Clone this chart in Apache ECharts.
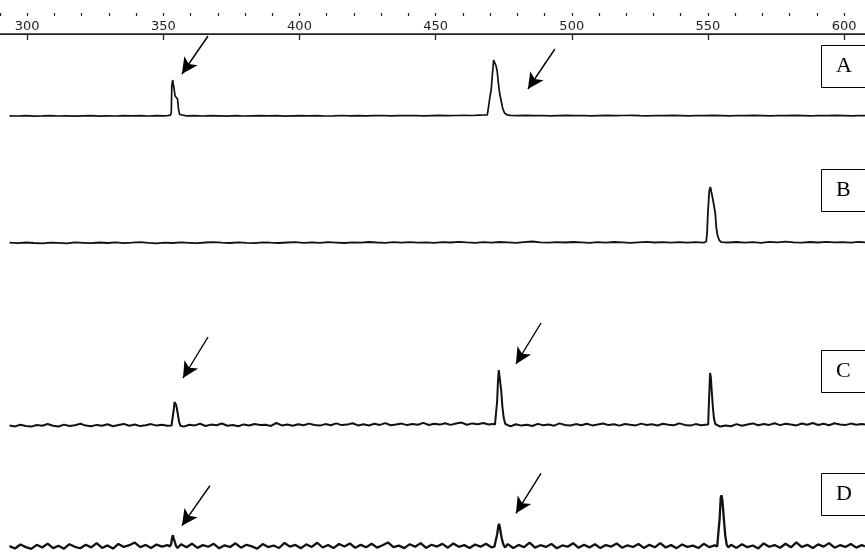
<!DOCTYPE html>
<html>
<head>
<meta charset="utf-8">
<script src="https://cdn.jsdelivr.net/npm/echarts@6/dist/echarts.min.js"></script>
<style>html,body{margin:0;padding:0;background:#fff;}#c{width:865px;height:557px;}</style>
</head>
<body>
<div id="c"></div>
<script>
// axis tick labels (top scale)
const majorTicks = [300, 350, 400, 450, 500, 550, 600];
const minorTicks = [290, 300, 310, 320, 330, 340, 350, 360, 370, 380, 390, 400, 410, 420, 430, 440, 450, 460, 470, 480, 490, 500, 510, 520, 530, 540, 550, 560, 570, 580, 590, 600];
const panelLabels = ['A', 'B', 'C', 'D'];

// trace A
const traceA = [[293.5,10.2],[296.5,10.0],[299.5,10.3],[302.5,9.9],[305.5,10.1],[308.5,10.4],[311.5,10.0],[314.5,10.2],[317.5,9.8],[320.5,10.1],[323.5,10.3],[326.5,9.9],[329.5,10.2],[332.5,10.0],[335.5,10.4],[338.5,10.1],[341.5,10.3],[344.5,10.0],[347.5,10.4],[350.0,10.2],
[351.5,10.4],[352.6,10.8],[352.9,13],[353.1,40],[353.4,46],[353.7,44],[354.0,36],[354.3,30],[354.8,29],[355.2,27],[355.6,16],[356.0,11.5],[356.6,10.5],
[358.5,10.2],[361.5,10.4],[364.5,10.0],[367.5,10.3],[370.5,10.1],[373.5,9.9],[376.5,10.3],[379.5,10.0],[382.5,10.2],[385.5,10.4],[388.5,10.1],[391.5,10.3],[394.5,9.9],[397.5,10.2],[400.5,10.4],[403.5,10.1],[406.5,10.3],[409.5,10.0],[412.5,10.2],[415.5,10.5],[418.5,10.2],[421.5,10.4],[424.5,10.1],[427.5,10.3],[430.5,10.5],[433.5,10.2],[436.5,10.4],[439.5,10.3],[442.5,10.5],[445.5,10.2],[448.5,10.4],[451.5,10.6],[454.5,10.3],[457.5,10.5],[460.5,10.7],[463.5,10.5],[466.0,10.8],
[467.8,11.0],[469.0,11.2],[469.7,12],[470.0,30],[470.4,36],[470.8,50],[471.3,66],[471.6,68],[471.9,67],[472.2,60],[472.6,55],[473.0,44],[473.5,33],[474.0,26],[474.6,18],[475.3,13],[476.2,11.2],[477.5,10.6],
[480.0,10.4],[483.0,10.6],[486.0,10.3],[489.0,10.5],[492.0,10.2],[495.0,10.4],[498.0,10.6],[501.0,10.3],[504.0,10.5],[507.0,10.2],[510.0,10.4],[513.0,10.6],[516.0,10.3],[519.0,10.5],[522.0,10.7],[525.0,10.4],[528.0,10.2],[531.0,10.5],[534.0,10.3],[537.0,10.6],[540.0,10.4],[543.0,10.2],[546.0,10.5],[549.0,10.3],[552.0,10.6],[555.0,10.4],[558.0,10.2],[561.0,10.5],[564.0,10.3],[567.0,10.6],[570.0,10.4],[573.0,10.2],[576.0,10.5],[579.0,10.3],[582.0,10.6],[585.0,10.4],[588.0,10.2],[591.0,10.5],[594.0,10.3],[597.0,10.6],[600.0,10.4],[603.0,10.2],[606.0,10.5],[607.7,10.3]];

// trace B
const traceB = [[293.5,10.3],[296.5,9.8],[299.5,10.5],[302.5,10.0],[305.5,9.6],[308.5,10.4],[311.5,10.1],[314.5,9.7],[317.5,10.6],[320.5,10.2],[323.5,9.8],[326.5,10.5],[329.5,10.0],[332.5,10.7],[335.5,9.9],[338.5,10.3],[341.5,10.8],[344.5,10.1],[347.5,9.7],[350.5,10.4],[353.5,10.0],[356.5,10.6],[359.5,10.2],[362.5,9.8],[365.5,10.5],[368.5,10.9],[371.5,10.3],[374.5,10.0],[377.5,10.6],[380.5,10.2],[383.5,9.9],[386.5,10.7],[389.5,10.3],[392.5,10.0],[395.5,10.5],[398.5,10.9],[401.5,10.2],[404.5,10.6],[407.5,10.1],[410.5,10.8],[413.5,10.4],[416.5,10.0],[419.5,10.7],[422.5,10.3],[425.5,11.0],[428.5,10.5],[431.5,10.1],[434.5,10.8],[437.5,10.4],[440.5,10.9],[443.5,10.3],[446.5,10.7],[449.5,10.2],[452.5,10.9],[455.5,10.5],[458.5,11.1],[461.5,10.6],[464.5,10.2],[467.5,10.8],[470.5,10.4],[473.5,11.0],[476.5,10.6],[479.5,10.2],[482.5,10.9],[485.5,11.5],[488.5,10.7],[491.5,10.3],[494.5,10.9],[497.5,10.5],[500.5,11.0],[503.5,10.6],[506.5,10.2],[509.5,10.8],[512.5,10.4],[515.5,11.0],[518.5,10.6],[521.5,10.1],[524.5,10.7],[527.5,11.2],[530.5,10.5],[533.5,10.9],[536.5,10.4],[539.5,10.8],[542.5,10.3],[545.5,10.9],
[548.5,10.3],[549.4,11.5],[549.7,20],[550.0,40],[550.5,62],[550.9,66],[551.2,64],[551.5,58],[551.8,54],[552.3,52],[552.7,40],[553.1,25],[553.6,17],[554.2,12.5],[555.0,10.8],
[557.5,10.5],[560.5,11.0],[563.5,10.4],[566.5,10.8],[569.5,10.2],[572.5,11.1],[575.5,10.6],[578.5,11.4],[581.5,10.7],[584.5,10.3],[587.5,11.0],[590.5,10.5],[593.5,11.2],[596.5,10.6],[599.5,10.9],[602.5,10.4],[605.5,11.1],[607.7,10.6]];

// trace C
const traceC = [[293.5,10.5],[295.5,9.6],[297.5,11.2],[299.5,10.1],[301.5,9.4],[303.5,11.0],[305.5,10.3],[307.5,12.0],[309.5,10.2],[311.5,9.5],[313.5,11.4],[315.5,10.0],[317.5,10.8],[319.5,12.3],[321.5,10.4],[323.5,9.7],[325.5,11.1],[327.5,10.2],[329.5,11.8],[331.5,9.8],[333.5,10.9],[335.5,12.1],[337.5,10.3],[339.5,11.5],[341.5,9.9],[343.5,10.7],[345.5,11.9],[347.5,10.4],[349.5,11.2],[351.5,10.2],
[353.0,10.5],[353.5,12],[353.8,26],[354.1,34],[354.4,36],[354.7,31],[355.0,27],[355.4,25],[355.8,14],[356.3,10.2],
[357.5,9.4],[359.5,11.3],[361.5,10.6],[363.5,12.2],[365.5,10.0],[367.5,11.4],[369.5,10.8],[371.5,12.5],[373.5,10.3],[375.5,11.0],[377.5,9.7],[379.5,11.6],[381.5,10.5],[383.5,12.0],[385.5,10.9],[387.5,11.3],[389.5,10.1],[391.5,13.0],[393.5,10.6],[395.5,11.5],[397.5,10.2],[399.5,11.8],[401.5,10.7],[403.5,12.4],[405.5,11.0],[407.5,10.4],[409.5,11.9],[411.5,10.8],[413.5,12.6],[415.5,10.9],[417.5,11.4],[419.5,12.7],[421.5,10.6],[423.5,11.7],[425.5,10.5],[427.5,12.2],[429.5,11.1],[431.5,12.9],[433.5,10.8],[435.5,11.6],[437.5,12.4],[439.5,10.9],[441.5,12.0],[443.5,11.2],[445.5,13.1],[447.5,11.0],[449.5,12.3],[451.5,11.4],[453.5,12.8],[455.5,11.1],[457.5,12.5],[459.5,13.4],[461.5,11.3],[463.5,12.6],[465.5,11.7],[467.5,13.0],[469.5,11.5],[471.0,12.1],
[471.8,11.5],[472.3,13],[472.6,35],[472.9,55],[473.2,66],[473.5,64],[473.8,52],[474.1,45],[474.5,30],[475.0,18],[475.6,12],[476.3,10.2],
[477.5,9.6],[479.5,11.8],[481.5,10.4],[483.5,11.2],[485.5,10.0],[487.5,12.1],[489.5,10.7],[491.5,11.5],[493.5,10.3],[495.5,12.6],[497.5,11.0],[499.5,10.5],[501.5,11.9],[503.5,10.8],[505.5,12.3],[507.5,10.6],[509.5,11.4],[511.5,12.5],[513.5,10.9],[515.5,11.7],[517.5,10.4],[519.5,12.0],[521.5,11.2],[523.5,10.6],[525.5,12.4],[527.5,11.0],[529.5,11.8],[531.5,10.5],[533.5,12.2],[535.5,11.3],[537.5,10.7],[539.5,12.6],[541.5,11.1],[543.5,10.4],[545.5,11.9],[547.5,10.8],[549.0,11.2],
[549.5,10.5],[550.1,11.5],[550.4,35],[550.8,63],[551.1,58],[551.4,45],[551.8,30],[552.2,18],[552.7,12],[553.3,10.2],
[554.5,9.4],[556.5,10.6],[558.5,9.8],[560.5,11.9],[562.5,10.3],[564.5,11.5],[566.5,12.6],[568.5,10.7],[570.5,12.0],[572.5,11.1],[574.5,12.8],[576.5,10.9],[578.5,12.3],[580.5,11.4],[582.5,10.6],[584.5,12.5],[586.5,11.3],[588.5,13.0],[590.5,11.0],[592.5,12.2],[594.5,10.8],[596.5,12.7],[598.5,11.5],[600.5,10.9],[602.5,12.4],[604.5,11.2],[606.5,12.0],[607.7,11.4]];

// trace D
const traceD = [[293.5,11.5],[295.5,9.0],[297.5,13.2],[299.5,10.4],[301.5,8.6],[303.5,12.8],[305.5,10.0],[307.5,14.1],[309.5,9.3],[311.5,11.9],[313.5,8.8],[315.5,13.5],[317.5,10.7],[319.5,9.2],[321.5,12.9],[323.5,10.1],[325.5,14.6],[327.5,9.5],[329.5,12.2],[331.5,8.9],[333.5,13.8],[335.5,10.6],[337.5,12.4],[339.5,15.2],[341.5,10.3],[343.5,12.7],[345.5,9.4],[347.5,13.1],[349.5,11.0],[351.5,12.6],
[352.4,11],[352.9,14],[353.2,20],[353.5,23],[353.8,19],[354.2,16],[354.6,12],[355.2,9.5],
[356.5,13.4],[358.5,10.2],[360.5,14.0],[362.5,9.6],[364.5,12.5],[366.5,10.8],[368.5,13.9],[370.5,9.1],[372.5,12.3],[374.5,10.5],[376.5,14.4],[378.5,9.8],[380.5,12.9],[382.5,11.2],[384.5,8.7],[386.5,13.6],[388.5,10.4],[390.5,12.1],[392.5,9.5],[394.5,14.8],[396.5,10.9],[398.5,12.7],[400.5,9.2],[402.5,13.3],[404.5,10.6],[406.5,15.0],[408.5,10.0],[410.5,12.6],[412.5,9.4],[414.5,13.7],[416.5,11.1],[418.5,14.2],[420.5,9.7],[422.5,12.8],[424.5,10.3],[426.5,13.9],[428.5,9.9],[430.5,12.4],[432.5,15.3],[434.5,10.5],[436.5,12.0],[438.5,9.3],[440.5,13.5],[442.5,10.8],[444.5,14.6],[446.5,9.6],[448.5,12.9],[450.5,11.0],[452.5,13.8],[454.5,9.8],[456.5,14.3],[458.5,10.7],[460.5,12.5],[462.5,9.4],[464.5,13.2],[466.5,10.9],[468.5,14.0],[470.5,10.2],
[471.6,11],[472.2,13],[472.6,24],[473.0,32],[473.3,35],[473.6,31],[474.0,24],[474.4,18],[474.9,13],[475.5,10],
[476.5,13.6],[478.5,9.5],[480.5,12.7],[482.5,10.3],[484.5,15.1],[486.5,9.9],[488.5,12.4],[490.5,10.6],[492.5,13.8],[494.5,9.2],[496.5,12.2],[498.5,10.8],[500.5,14.5],[502.5,9.7],[504.5,12.9],[506.5,10.1],[508.5,13.4],[510.5,9.4],[512.5,12.6],[514.5,11.0],[516.5,14.2],[518.5,9.8],[520.5,12.3],[522.5,10.5],[524.5,13.7],[526.5,9.6],[528.5,12.8],[530.5,10.2],[532.5,14.7],[534.5,10.0],[536.5,12.5],[538.5,9.3],[540.5,13.1],[542.5,10.7],[544.5,12.0],[546.5,9.5],[548.5,13.9],[550.5,10.4],[552.5,12.2],
[553.4,11],[554.0,13],[554.3,40],[554.7,62],[555.0,65],[555.3,60],[555.6,50],[556.0,35],[556.4,22],[556.9,13],[557.5,10],
[558.5,12.9],[560.5,9.6],[562.5,13.5],[564.5,10.3],[566.5,12.1],[568.5,9.0],[570.5,14.3],[572.5,10.8],[574.5,12.6],[576.5,9.7],[578.5,13.9],[580.5,10.2],[582.5,15.4],[584.5,10.5],[586.5,12.8],[588.5,9.4],[590.5,13.3],[592.5,10.9],[594.5,14.6],[596.5,9.8],[598.5,12.4],[600.5,10.6],[602.5,13.7],[604.5,9.9],[606.5,12.5],[607.7,11.2]];

// arrow annotations [x1, y1, x2(tip), y2(tip)] in data units of each panel
const arrowsA = [[366.4, 90, 356.8, 52], [493.8, 77, 483.9, 37]];
const arrowsB = [];
const arrowsC = [[366.4, 99, 357.2, 58], [488.7, 113, 479.5, 72]];
const arrowsD = [[367.1, 75, 356.8, 33], [488.7, 88, 479.5, 46]];

const traces = [traceA, traceB, traceC, traceD];
const arrows = [arrowsA, arrowsB, arrowsC, arrowsD];

const X_MIN = 290, X_MAX = 607.7;
const panelTops = [6, 133, 316, 443];
const boxTops = [45, 169, 350, 473];
const lineWidths = [1.7, 1.8, 2.0, 2.3];
const ink = '#111';

const chart = echarts.init(document.getElementById('c'), null, {renderer: 'canvas'});

const grid = [{left: 0, width: 865, top: 13, height: 21}];
const xAxis = [
  { gridIndex: 0, type: 'value', position: 'top', min: X_MIN, max: X_MAX,
    axisLine: {show: true, lineStyle: {color: '#222', width: 1}},
    axisTick: {show: true, inside: true, length: 6, customValues: majorTicks, lineStyle: {color: '#222', width: 1.3}},
    axisLabel: {show: true, inside: true, customValues: majorTicks, margin: 7, fontSize: 13, color: '#222', fontFamily: 'DejaVu Sans'},
    splitLine: {show: false} },
  { gridIndex: 0, type: 'value', position: 'top', min: X_MIN, max: X_MAX,
    axisLine: {show: false},
    axisTick: {show: true, inside: true, length: 3, customValues: minorTicks, lineStyle: {color: '#222', width: 1.2}},
    axisLabel: {show: false}, splitLine: {show: false} },
  { gridIndex: 0, type: 'value', position: 'bottom', min: X_MIN, max: X_MAX,
    axisLine: {show: true, lineStyle: {color: '#222', width: 1.5}},
    axisTick: {show: false}, axisLabel: {show: false}, splitLine: {show: false} }
];
const yAxis = [{gridIndex: 0, type: 'value', show: false, min: 0, max: 1}];
const series = [];
const title = [];

traces.forEach((tr, i) => {
  grid.push({left: 0, width: 865, top: panelTops[i], height: 120});
  xAxis.push({gridIndex: i + 1, type: 'value', min: X_MIN, max: X_MAX, show: false});
  yAxis.push({gridIndex: i + 1, type: 'value', min: 0, max: 120, show: false});
  series.push({
    type: 'line', xAxisIndex: 3 + i, yAxisIndex: 1 + i, data: tr,
    showSymbol: false, symbol: 'none', smooth: false,
    lineStyle: {color: ink, width: lineWidths[i]},
    animation: false, silent: true,
    markLine: {
      silent: true, animation: false,
      symbol: ['none', 'arrow'], symbolSize: [12, 16],
      lineStyle: {color: '#000', width: 1.4, type: 'solid'},
      label: {show: false},
      data: arrows[i].map(a => [{coord: [a[0], a[1]]}, {coord: [a[2], a[3]]}])
    }
  });
  title.push({
    text: panelLabels[i], left: 821, top: boxTops[i],
    padding: [10, 30, 10, 15],
    borderWidth: 1, borderColor: '#000', backgroundColor: '#fff',
    textStyle: {fontFamily: 'Liberation Serif', fontSize: 22, fontWeight: 'normal', color: '#000', lineHeight: 23}
  });
});

chart.setOption({animation: false, backgroundColor: '#fff', title, grid, xAxis, yAxis, series});
</script>
</body>
</html>
